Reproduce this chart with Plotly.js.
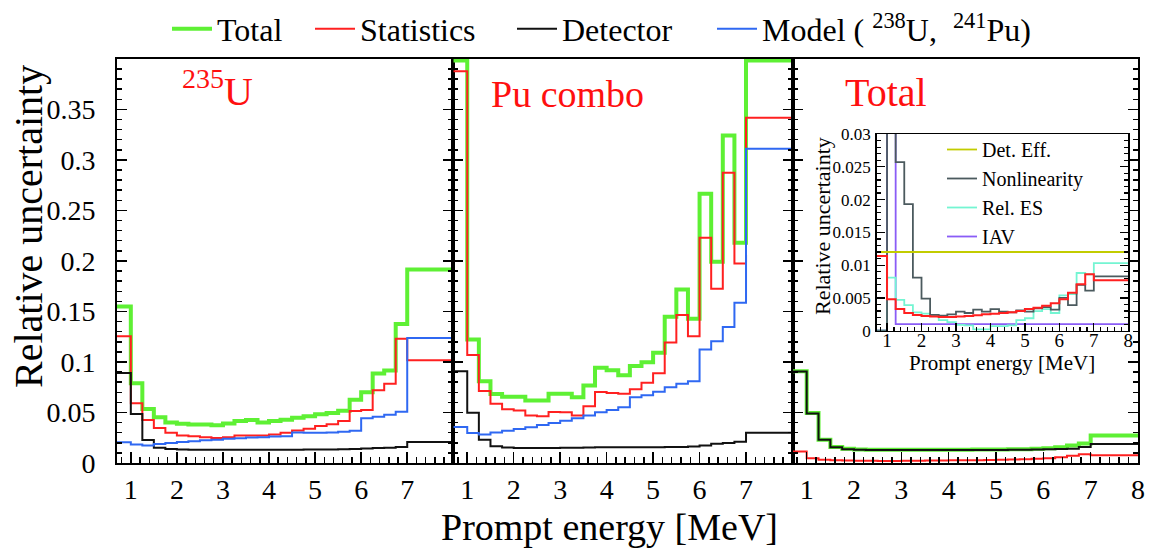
<!DOCTYPE html>
<html><head><meta charset="utf-8">
<script src="https://cdn.plot.ly/plotly-3.0.1.min.js"></script>
<style>html,body{margin:0;padding:0;background:#fff}#chart{width:1153px;height:557px}</style>
</head><body><div id="chart"></div>
<script>
// ---------- data ----------
const binEdges = [0.7, 1.0, 1.25, 1.5, 1.75, 2.0, 2.25, 2.5, 2.75, 3.0, 3.25, 3.5, 3.75, 4.0, 4.25, 4.5, 4.75, 5.0, 5.25, 5.5, 5.75, 6.0, 6.25, 6.5, 6.75, 7.0, 8.0];

// 235U panel
const u235Total = [0.155, 0.079, 0.0535, 0.0452, 0.040, 0.0388, 0.0382, 0.038, 0.0374, 0.039, 0.0415, 0.0425, 0.0400, 0.0415, 0.0428, 0.0448, 0.0462, 0.0482, 0.0496, 0.0518, 0.0625, 0.0700, 0.0885, 0.0915, 0.1377, 0.1915];
const u235Stat  = [0.1255, 0.0592, 0.0426, 0.0347, 0.0300, 0.0271, 0.0265, 0.0255, 0.0248, 0.0256, 0.0271, 0.0271, 0.0271, 0.0281, 0.0300, 0.0322, 0.0338, 0.0366, 0.0384, 0.0416, 0.0515, 0.0525, 0.0719, 0.0784, 0.1229, 0.1018];
const u235Det   = [0.0892, 0.0486, 0.0228, 0.0152, 0.0139, 0.0134, 0.0132, 0.0132, 0.0132, 0.0132, 0.0132, 0.0132, 0.0132, 0.0132, 0.0132, 0.0132, 0.0133, 0.0133, 0.0134, 0.0135, 0.0139, 0.0144, 0.0148, 0.0150, 0.0158, 0.0208];
const u235Model = [0.0206, 0.0182, 0.0174, 0.0188, 0.0198, 0.0208, 0.0215, 0.0225, 0.0231, 0.0240, 0.0246, 0.0253, 0.0256, 0.0262, 0.0264, 0.0302, 0.0300, 0.0300, 0.0303, 0.0309, 0.0318, 0.0442, 0.0458, 0.0478, 0.0508, 0.1238];

// Pu combo panel
const puTotal = [0.3985, 0.1222, 0.0808, 0.0682, 0.0655, 0.0655, 0.0618, 0.0618, 0.0685, 0.0686, 0.0651, 0.0768, 0.0942, 0.0918, 0.0868, 0.0959, 0.0998, 0.1091, 0.1447, 0.1717, 0.1427, 0.2665, 0.1991, 0.3243, 0.2180, 0.3985];
const puStat  = [0.3877, 0.1070, 0.0712, 0.0586, 0.0532, 0.0519, 0.0471, 0.0463, 0.0505, 0.0503, 0.0470, 0.0562, 0.0704, 0.0694, 0.0685, 0.0731, 0.0794, 0.0889, 0.1192, 0.1466, 0.1255, 0.2229, 0.1724, 0.2873, 0.1975, 0.3418];
const puDet   = [0.0908, 0.0498, 0.0231, 0.0165, 0.0153, 0.0149, 0.0148, 0.0148, 0.0149, 0.0150, 0.0152, 0.0154, 0.0155, 0.0155, 0.0155, 0.0156, 0.0156, 0.0157, 0.0158, 0.0159, 0.0163, 0.0172, 0.0190, 0.0198, 0.0210, 0.0300];
const puModel = [0.0357, 0.0298, 0.0281, 0.0302, 0.0320, 0.0336, 0.0354, 0.0375, 0.0395, 0.0418, 0.0443, 0.0470, 0.0503, 0.0524, 0.0553, 0.0650, 0.0670, 0.0705, 0.0750, 0.0784, 0.0810, 0.1123, 0.1205, 0.1347, 0.1585, 0.3110];

// Total panel
const totTotal = [0.0909, 0.0494, 0.0231, 0.0159, 0.0140, 0.0134, 0.0132, 0.0132, 0.0132, 0.0132, 0.0132, 0.0132, 0.0132, 0.0132, 0.0132, 0.0133, 0.0133, 0.0134, 0.0135, 0.0137, 0.0140, 0.0145, 0.0155, 0.0172, 0.0192, 0.0271];
const totStat  = [0.0114, 0.0048, 0.0033, 0.0027, 0.0024, 0.00226, 0.00215, 0.0021, 0.0021, 0.00215, 0.00226, 0.00236, 0.0025, 0.0026, 0.0027, 0.0028, 0.0030, 0.0033, 0.0035, 0.0038, 0.0042, 0.0048, 0.0058, 0.0071, 0.0086, 0.0077];
const totDet   = [0.0906, 0.0490, 0.0229, 0.0156, 0.0137, 0.0130, 0.0129, 0.0129, 0.0129, 0.0129, 0.0129, 0.0129, 0.0129, 0.0129, 0.0129, 0.0129, 0.0129, 0.0129, 0.0130, 0.0131, 0.0133, 0.0137, 0.0139, 0.0141, 0.0159, 0.0188];

// Inset: detector components
const detEff = [0.0120, 0.0120, 0.0120, 0.0120, 0.0120, 0.0120, 0.0120, 0.0120, 0.0120, 0.0120, 0.0120, 0.0120, 0.0120, 0.0120, 0.0120, 0.0120, 0.0120, 0.0120, 0.0120, 0.0120, 0.0120, 0.0120, 0.0120, 0.0120, 0.0120, 0.0120];
const nonLin = [0, 0.05, 0.0257, 0.0193, 0.0081, 0.0049, 0.0024, 0.0023, 0.0025, 0.0029, 0.0027, 0.0032, 0.0029, 0.0033, 0.0029, 0.0028, 0.0031, 0.0029, 0.0034, 0.0036, 0.0032, 0.0050, 0.0039, 0.0070, 0.0061, 0.0083];
const relES  = [0, 0.0081, 0.0047, 0.0039, 0.0028, 0.0026, 0.0023, 0.0016, 0.0013, 0.0009, 0.0008, 0.0002, 0.0002, 0.0007, 0.0007, 0.0008, 0.0016, 0.0019, 0.0030, 0.0033, 0.0027, 0.0054, 0.0056, 0.0088, 0.0086, 0.0103];
const iav    = [0, 0.05, 0.001, 0.001, 0.001, 0.001, 0.001, 0.001, 0.001, 0.001, 0.001, 0.001, 0.001, 0.001, 0.001, 0.001, 0.001, 0.001, 0.001, 0.001, 0.001, 0.001, 0.001, 0.001, 0.001, 0.001];

const mainTicks = [1, 2, 3, 4, 5, 6, 7];
const lastTicks = [1, 2, 3, 4, 5, 6, 7, 8];
const yTickVals = [0, 0.05, 0.1, 0.15, 0.2, 0.25, 0.3, 0.35];
const yTickText = ['0', '0.05', '0.1', '0.15', '0.2', '0.25', '0.3', '0.35'];
const panelLabels = ['<sup>235</sup>U', 'Pu combo', 'Total'];
const seriesNames = ['Total', 'Statistics', 'Detector', 'Model ( <sup>238</sup>U,  <sup>241</sup>Pu)'];
const insetNames = ['Det. Eff.', 'Nonlinearity', 'Rel. ES', 'IAV'];

// ---------- styling ----------
const FONT = 'Liberation Serif';
const C = {total: '#5ef034', stat: '#ff2020', det: '#111111', model: '#2f68f2',
           eff: '#c2cc00', nl: '#4b5a5e', es: '#74f5d2', iav: '#8a5cf6'};
const W = 1153, H = 557, ML = 117, MR = 15, MT = 59, MB = 94;
const PW = W - ML - MR, PH = H - MT - MB;
const px = x => (x - ML) / PW;
const py = y => (H - MB - y) / PH;

function hist(vals, color, width, xa, ya, name, show, legend, rank) {
  return {x: binEdges, y: vals.concat([vals[vals.length - 1]]), type: 'scatter', mode: 'lines',
    line: {shape: 'hv', color: color, width: width}, xaxis: xa, yaxis: ya, name: name,
    showlegend: show, legend: legend || 'legend', legendrank: rank || 1000, hoverinfo: 'skip'};
}

const traces = [
  hist(u235Total, C.total, 4, 'x', 'y', seriesNames[0], true, 'legend'),
  hist(u235Stat, C.stat, 2, 'x', 'y', seriesNames[1], true, 'legend3'),
  hist(u235Det, C.det, 2, 'x', 'y', seriesNames[2], true, 'legend4'),
  hist(u235Model, C.model, 2, 'x', 'y', seriesNames[3], true, 'legend5'),
  hist(puTotal, C.total, 4, 'x2', 'y2', seriesNames[0], false),
  hist(puStat, C.stat, 2, 'x2', 'y2', seriesNames[1], false),
  hist(puDet, C.det, 2, 'x2', 'y2', seriesNames[2], false),
  hist(puModel, C.model, 2, 'x2', 'y2', seriesNames[3], false),
  hist(totTotal, C.total, 4, 'x3', 'y3', seriesNames[0], false),
  hist(totStat, C.stat, 2, 'x3', 'y3', seriesNames[1], false),
  hist(totDet, C.det, 2, 'x3', 'y3', seriesNames[2], false),
  hist(iav, C.iav, 1.8, 'x4', 'y4', insetNames[3], true, 'legend2', 4),
  hist(relES, C.es, 1.8, 'x4', 'y4', insetNames[2], true, 'legend2', 3),
  hist(nonLin, C.nl, 1.8, 'x4', 'y4', insetNames[1], true, 'legend2', 2),
  hist(detEff, C.eff, 1.8, 'x4', 'y4', insetNames[0], true, 'legend2', 1),
  hist(totStat, C.stat, 2, 'x4', 'y4', 'stat', false)
];

function xAxis(domain, anchor, ticks) {
  return {domain: domain, anchor: anchor, range: [0.7, 8], tickmode: 'array', tickvals: ticks,
    ticktext: ticks.map(String), showline: true, linecolor: '#000', linewidth: 2, mirror: true,
    ticks: 'inside', ticklen: 11, tickwidth: 1.5, tickcolor: '#000',
    minor: {ticks: 'inside', ticklen: 6, dtick: 0.2, tick0: 0, tickwidth: 1.5, tickcolor: '#000'},
    tickfont: {family: FONT, size: 28, color: '#000'}, ticklabelstandoff: 0,
    showgrid: false, zeroline: false, fixedrange: true};
}
function yAxis(anchor, labels) {
  return {domain: [0, 1], anchor: anchor, range: [0, 0.3999], tickmode: 'array', tickvals: yTickVals,
    ticktext: yTickText, showticklabels: labels, showline: true, linecolor: '#000', linewidth: 2,
    mirror: 'allticks', ticks: 'inside', ticklen: 10, tickwidth: 1.5, tickcolor: '#000',
    minor: {ticks: 'inside', ticklen: 5, dtick: 0.01, tick0: 0, tickwidth: 1.5, tickcolor: '#000'},
    tickfont: {family: FONT, size: 28, color: '#000'}, ticklabelstandoff: 14,
    showgrid: false, zeroline: false, fixedrange: true};
}
function topLegend(xPix) {
  return {x: px(xPix), y: py(29), xanchor: 'left', yanchor: 'middle',
    font: {family: FONT, size: 32, color: '#000'}, itemwidth: 40, bgcolor: 'rgba(0,0,0,0)',
    itemclick: false, itemdoubleclick: false};
}

const d1 = [0, px(453.3)], d2 = [px(453.3), px(792.5)], d3 = [px(792.5), 1];

const layout = {
  width: W, height: H, margin: {l: ML, r: MR, t: MT, b: MB, autoexpand: false},
  paper_bgcolor: '#fff', plot_bgcolor: '#fff',
  font: {family: FONT, color: '#000'},
  xaxis: xAxis(d1, 'y', mainTicks),
  xaxis2: xAxis(d2, 'y2', mainTicks),
  xaxis3: xAxis(d3, 'y3', lastTicks),
  yaxis: yAxis('x', true),
  yaxis2: yAxis('x2', false),
  yaxis3: yAxis('x3', false),
  xaxis4: {domain: [px(876.7), px(1128.3)], anchor: 'y4', range: [0.7, 8], tickmode: 'array',
    tickvals: lastTicks, ticktext: lastTicks.map(String), showline: true, linecolor: '#000', linewidth: 1.5,
    mirror: true, ticks: 'inside', ticklen: 8, tickwidth: 1.2, tickcolor: '#000',
    minor: {ticks: 'inside', ticklen: 4, dtick: 0.2, tick0: 0, tickwidth: 1.2, tickcolor: '#000'},
    tickfont: {family: FONT, size: 19, color: '#000'}, ticklabelstandoff: -8,
    showgrid: false, zeroline: false, fixedrange: true},
  yaxis4: {domain: [py(330.7), py(134)], anchor: 'x4', range: [0, 0.03], tickmode: 'linear', dtick: 0.005, tick0: 0,
    showline: true, linecolor: '#000', linewidth: 1.5, mirror: 'allticks', ticks: 'inside', ticklen: 8,
    tickwidth: 1.2, tickcolor: '#000',
    minor: {ticks: 'inside', ticklen: 4, dtick: 0.001, tick0: 0, tickwidth: 1.2, tickcolor: '#000'},
    tickfont: {family: FONT, size: 17, color: '#000'}, ticklabelstandoff: 1,
    showgrid: false, zeroline: false, fixedrange: true},
  legend: topLegend(167),
  legend3: topLegend(310),
  legend4: topLegend(512),
  legend5: topLegend(712),
  legend2: {x: px(942), y: py(130), xanchor: 'left', yanchor: 'top',
    font: {family: FONT, size: 20, color: '#000'}, itemwidth: 30, bgcolor: 'rgba(0,0,0,0)',
    traceorder: 'normal', itemclick: false, itemdoubleclick: false},
  annotations: [
    {text: panelLabels[0], xref: 'paper', yref: 'paper', x: px(180), y: py(116), xanchor: 'left', yanchor: 'bottom',
      align: 'left', showarrow: false, font: {family: FONT, size: 40, color: '#ff1010'}},
    {text: panelLabels[1], xref: 'paper', yref: 'paper', x: px(489), y: py(94), xanchor: 'left', yanchor: 'middle',
      align: 'left', showarrow: false, font: {family: FONT, size: 38, color: '#ff1010'}},
    {text: panelLabels[2], xref: 'paper', yref: 'paper', x: px(843), y: py(93), xanchor: 'left', yanchor: 'middle',
      align: 'left', showarrow: false, font: {family: FONT, size: 40, color: '#ff1010'}},
    {text: 'Prompt energy [MeV]', xref: 'paper', yref: 'paper', x: px(609), y: py(527), xanchor: 'center', yanchor: 'middle',
      showarrow: false, font: {family: FONT, size: 38, color: '#000'}},
    {text: 'Relative uncertainty', xref: 'paper', yref: 'paper', x: px(28), y: py(227), xanchor: 'center', yanchor: 'middle',
      textangle: -90, showarrow: false, font: {family: FONT, size: 40, color: '#000'}},
    {text: 'Prompt energy [MeV]', xref: 'paper', yref: 'paper', x: px(1002), y: py(363), xanchor: 'center', yanchor: 'middle',
      showarrow: false, font: {family: FONT, size: 21, color: '#000'}},
    {text: 'Relative uncertainty', xref: 'paper', yref: 'paper', x: px(822), y: py(226), xanchor: 'center', yanchor: 'middle',
      textangle: -90, showarrow: false, font: {family: FONT, size: 22, color: '#000'}}
  ]
};

// Large plotly texts come out in a sans face in this renderer: big labels are re-styled at
// half size and scaled 2x around their own anchor point (they stay real SVG text).
function scaleAbout(t, K) {
  const x = parseFloat(t.getAttribute('x')) || 0, y = parseFloat(t.getAttribute('y')) || 0;
  const tr = t.getAttribute('transform') || '';
  t.setAttribute('transform', (tr + ' translate(' + x + ',' + y + ') scale(' + K + ') translate(' + (-x) + ',' + (-y) + ')').trim());
}
function keepSerif() {
  const K = 2;
  document.querySelectorAll('#chart svg text').forEach(t => {
    if (t.getAttribute('data-serif')) return;
    const fs = parseFloat(t.style.fontSize || window.getComputedStyle(t).fontSize);
    if (!(fs > 23)) return;
    t.setAttribute('data-serif', '1');
    const fill = t.style.fill || '#000';
    const hasSup = t.querySelector('tspan') !== null;
    if (!hasSup) { const txt = t.textContent; t.textContent = txt; }
    t.setAttribute('style', "font-family:'Liberation Serif';font-size:" + (fs / K) + 'px;fill:' + fill + ';white-space:pre');
    t.querySelectorAll('tspan').forEach(s => {
      if (s.style.fontSize && /px$/.test(s.style.fontSize)) s.style.fontSize = (parseFloat(s.style.fontSize) / K) + 'px';
      s.style.fontFamily = "'Liberation Serif'";
    });
    scaleAbout(t, K);
  });
}

const drawn = Plotly.newPlot('chart', traces, layout, {displayModeBar: false, staticPlot: true});
keepSerif();
if (drawn && drawn.then) drawn.then(keepSerif);
setTimeout(keepSerif, 0);
setTimeout(keepSerif, 200);
</script>
</body></html>
